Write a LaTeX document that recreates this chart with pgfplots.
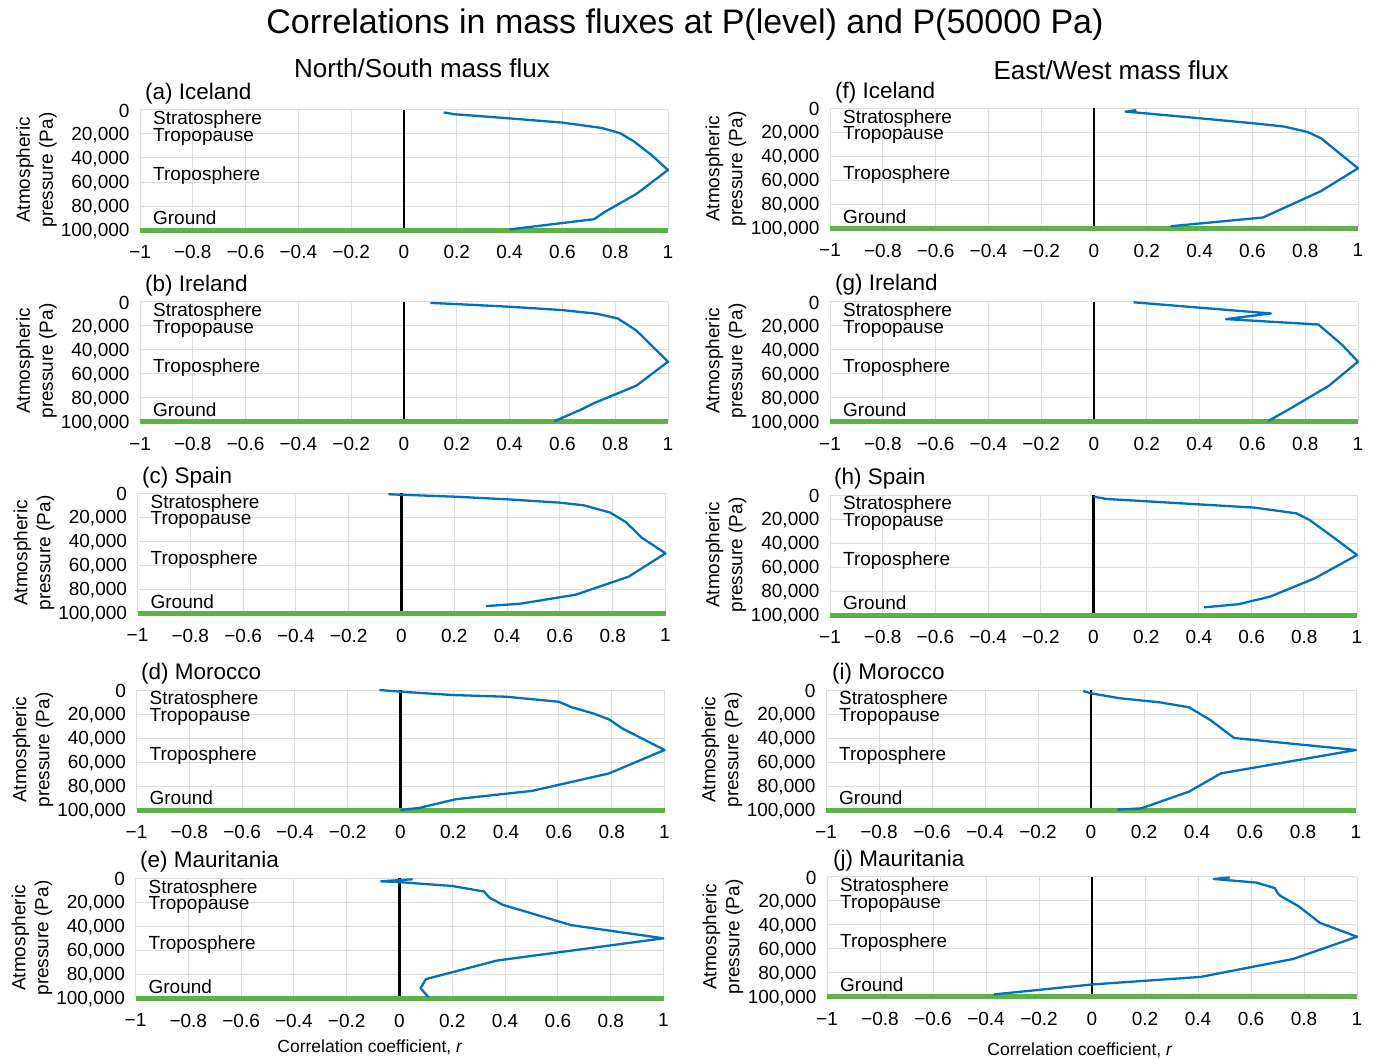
\documentclass[border=0pt]{standalone}
\usepackage{fontspec}
\setmainfont{Liberation Sans}
\usepackage{pgfplots}
\pgfplotsset{compat=1.18}
\definecolor{curve}{HTML}{0070C0}
\definecolor{ground}{HTML}{5BB346}
\definecolor{gridc}{HTML}{DDDDDD}
\newcommand\tickfont{\fontsize{19}{22}\selectfont}
\newcommand\lblfont{\fontsize{19}{21}\selectfont}
\pgfplotsset{
 panel/.style={
  scale only axis, width=528pt, height=120pt, anchor=north west,
  xmin=-1, xmax=1, ymin=0, ymax=100000, y dir=reverse, clip=false,
  xtick={-1,-0.8,-0.6,-0.4,-0.2,0,0.2,0.4,0.6,0.8,1},
  xticklabels={−1,−0.8,−0.6,−0.4,−0.2,0,0.2,0.4,0.6,0.8,1},
  ytick={0,20000,40000,60000,80000,100000},
  yticklabels={0,{20,000},{40,000},{60,000},{80,000},{100,000}},
  scaled y ticks=false,
  grid=major, major grid style={gridc, line width=1pt},
  axis line style={draw=none}, tick style={draw=none}, major tick length=0pt,
  tick label style={font=\tickfont},
  xticklabel style={yshift=-12pt},
  yticklabel style={xshift=-7pt, yshift=-1pt},
 },
 curvestyle/.style={curve, line width=2.3pt, line join=round},
}
\newcommand\zones{%
 \addplot[black, line width=2.5pt] coordinates {(0,0) (0,100000)};
 \addplot[ground, line width=5pt] coordinates {(-1,100000) (1,100000)};
 \node[anchor=west,font=\lblfont,inner sep=0pt] at (axis cs:-0.951,8333) {Stratosphere};
 \node[anchor=west,font=\lblfont,inner sep=0pt] at (axis cs:-0.951,22500) {Tropopause};
 \node[anchor=west,font=\lblfont,inner sep=0pt] at (axis cs:-0.951,55000) {Troposphere};
 \node[anchor=west,font=\lblfont,inner sep=0pt] at (axis cs:-0.951,90000) {Ground};
}
\newcommand\ylab[2]{\node[rotate=90, align=center, font=\fontsize{19}{23}\selectfont] at (#1pt,-#2pt) {Atmospheric\\pressure (Pa)};}
\newcommand\ptitle[3]{\node[anchor=west, inner sep=0pt, font=\fontsize{22.5}{26}\selectfont] at (#1pt,-#2pt) {#3};}
\begin{document}
\begin{tikzpicture}
\path[use as bounding box] (0,0) rectangle (1375pt,-1059pt);
% titles
\node[font=\fontsize{34}{40}\selectfont] at (685pt,-25pt) {Correlations in mass fluxes at P(level) and P(50000 Pa)};
\node[font=\fontsize{26}{30}\selectfont] at (422pt,-68pt) {North/South mass flux};
\node[font=\fontsize{26}{30}\selectfont] at (1111pt,-70pt) {East/West mass flux};
\node[font=\fontsize{17.5}{21}\selectfont] at (370pt,-1047pt) {Correlation coefficient, \textit{r}};
\node[font=\fontsize{17.5}{21}\selectfont] at (1080pt,-1050pt) {Correlation coefficient, \textit{r}};
% panel titles
\ptitle{145}{94}{(a) Iceland}
\ptitle{145}{286}{(b) Ireland}
\ptitle{142}{478}{(c) Spain}
\ptitle{141}{674}{(d) Morocco}
\ptitle{140}{862}{(e) Mauritania}
\ptitle{835}{93}{(f) Iceland}
\ptitle{835}{285}{(g) Ireland}
\ptitle{834}{479}{(h) Spain}
\ptitle{832}{674}{(i) Morocco}
\ptitle{833}{861}{(j) Mauritania}
% y labels
\ylab{36.5}{170}
\ylab{36.5}{361}
\ylab{34}{553}
\ylab{33}{750}
\ylab{32}{938}
\ylab{726}{169}
\ylab{726}{361}
\ylab{726}{555}
\ylab{722}{750}
\ylab{723}{937}

% (a) Iceland N/S
\begin{axis}[panel, at={(140pt,-110pt)}]
\zones
\addplot[curvestyle] coordinates {(0.15,2000) (0.19,3500) (0.40,7000) (0.60,10500) (0.75,15000) (0.82,19500) (0.87,26000) (0.94,38000) (1.0,50000) (0.88,70000) (0.76,85000) (0.72,91000) (0.40,99500)};
\end{axis}
% (b) Ireland N/S
\begin{axis}[panel, at={(140pt,-301.7pt)}]
\zones
\addplot[curvestyle] coordinates {(0.10,1000) (0.20,2000) (0.40,4200) (0.60,7000) (0.73,10000) (0.81,14000) (0.88,24000) (1.0,50000) (0.88,70000) (0.72,84500) (0.67,90000) (0.57,99500)};
\end{axis}
% (c) Spain N/S
\begin{axis}[panel, at={(137.5pt,-493.3pt)}]
\zones
\addplot[curvestyle] coordinates {(-0.05,800) (0.0,1200) (0.20,2800) (0.40,5000) (0.60,7800) (0.69,10000) (0.79,16000) (0.85,24000) (0.91,37000) (1.0,50000) (0.86,69500) (0.66,84500) (0.45,92000) (0.32,94000)};
\end{axis}
% (d) Morocco N/S
\begin{axis}[panel, at={(136.5pt,-690pt)}]
\zones
\addplot[curvestyle] coordinates {(-0.08,0) (0.0,1400) (0.20,4200) (0.40,5600) (0.60,9800) (0.65,14500) (0.73,19500) (0.79,24500) (0.84,32000) (1.0,50000) (0.79,69500) (0.50,84000) (0.21,91000) (0.07,98300) (0.0,100000)};
\end{axis}
% (e) Mauritania N/S
\begin{axis}[panel, at={(135.5pt,-878.3pt)}]
\zones
\addplot[curvestyle] coordinates {(0.05,800) (-0.07,2500) (0.0,3200) (0.20,6400) (0.32,11000) (0.34,16000) (0.39,22000) (0.52,30500) (0.65,39000) (1.0,50000) (0.37,68500) (0.10,84000) (0.08,91500) (0.11,99300)};
\end{axis}
% (f) Iceland E/W
\begin{axis}[panel, at={(830pt,-108.3pt)}]
\zones
\addplot[curvestyle] coordinates {(0.16,1500) (0.12,2800) (0.16,3500) (0.40,8300) (0.60,12400) (0.72,15200) (0.81,19800) (0.86,25000) (1.0,50000) (0.86,69000) (0.64,91000) (0.29,98300)};
\end{axis}
% (g) Ireland E/W
\begin{axis}[panel, at={(830pt,-301.7pt)}]
\zones
\addplot[curvestyle] coordinates {(0.15,500) (0.67,9800) (0.50,14500) (0.85,19000) (0.94,36000) (1.0,50000) (0.89,70000) (0.74,89500) (0.66,99400)};
\end{axis}
% (h) Spain E/W
\begin{axis}[panel, at={(830pt,-495pt)}, width=527pt]
\zones
\addplot[curvestyle] coordinates {(0.0,1400) (0.05,3300) (0.40,7800) (0.61,10500) (0.77,15300) (0.82,20800) (0.89,32000) (1.0,50000) (0.84,69400) (0.67,84700) (0.55,91000) (0.42,93600)};
\end{axis}
% (i) Morocco E/W
\begin{axis}[panel, at={(826pt,-690pt)}, width=530pt]
\zones
\addplot[curvestyle] coordinates {(-0.03,800) (0.0,2800) (0.11,6900) (0.26,10300) (0.37,14400) (0.45,25000) (0.54,40000) (1.0,50000) (0.49,69500) (0.37,84700) (0.19,98600) (0.10,99700)};
\end{axis}
% (j) Mauritania E/W
\begin{axis}[panel, at={(827pt,-876.7pt)}, width=530pt]
\zones
\addplot[curvestyle] coordinates {(0.52,600) (0.46,1900) (0.62,4900) (0.69,9500) (0.70,13500) (0.71,15800) (0.78,24700) (0.86,38400) (1.0,50000) (0.76,68500) (0.41,83500) (0.0,89800) (-0.37,98100)};
\end{axis}
\end{tikzpicture}
\end{document}
